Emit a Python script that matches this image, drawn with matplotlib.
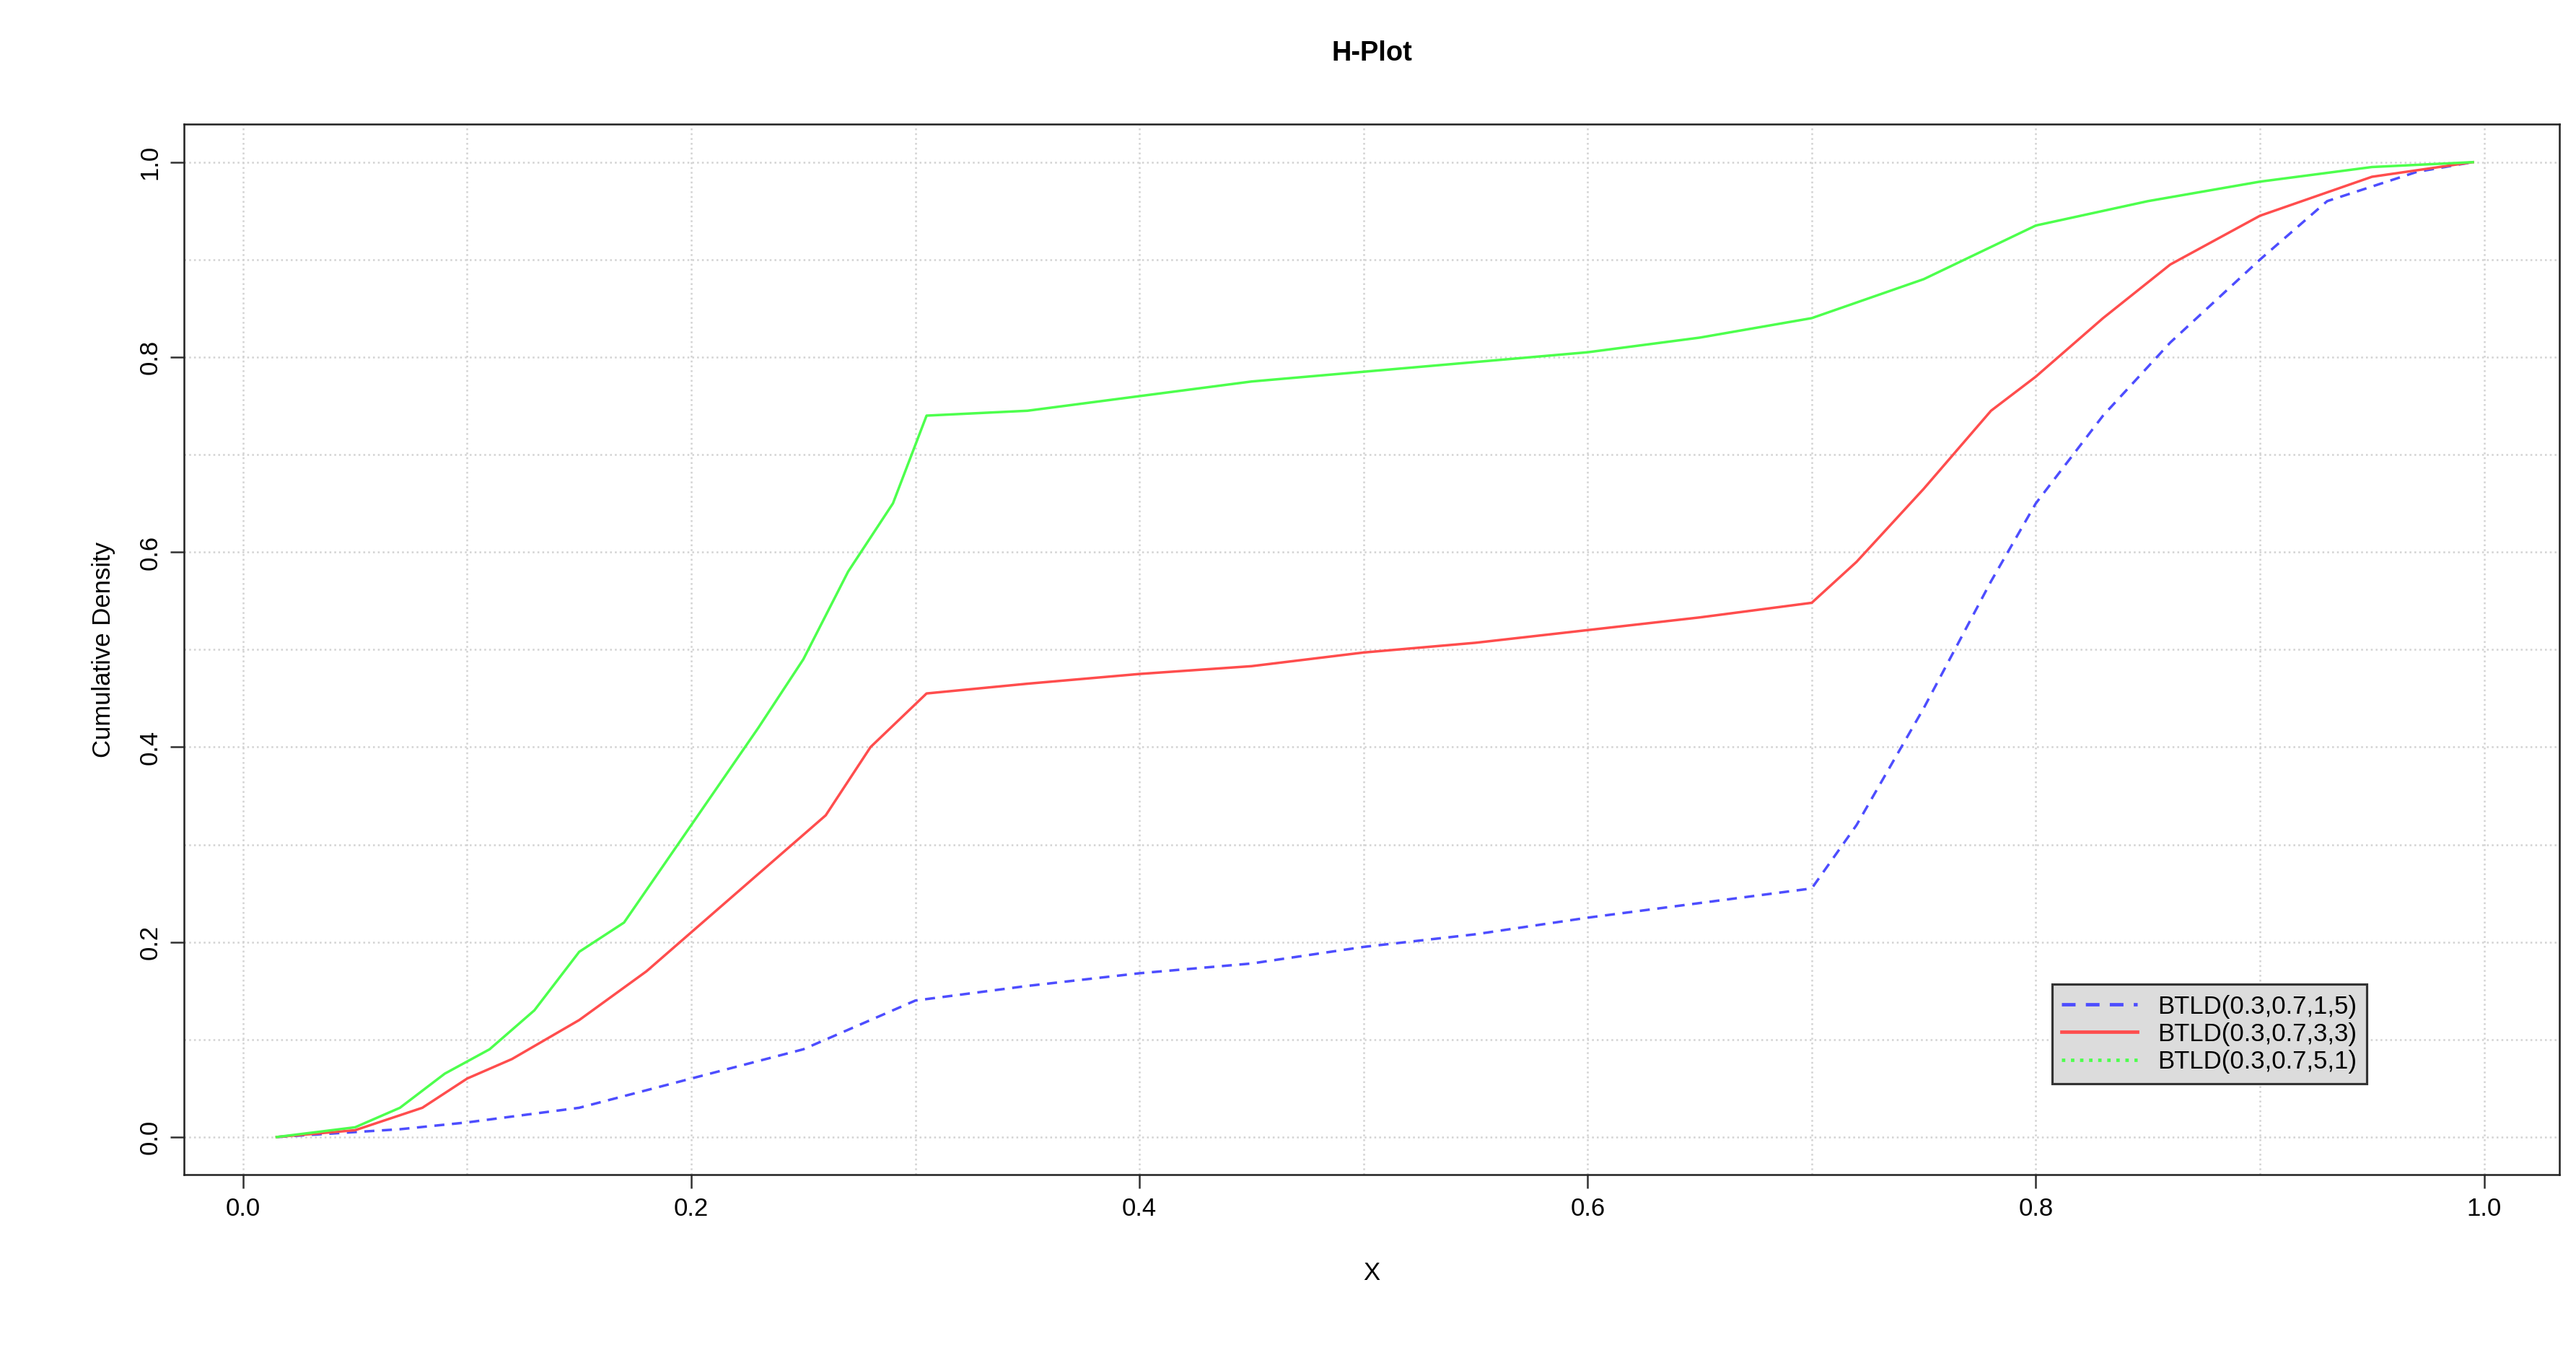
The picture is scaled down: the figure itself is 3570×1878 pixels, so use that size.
import matplotlib
matplotlib.use("Agg")
import matplotlib.pyplot as plt
from matplotlib.lines import Line2D

plt.rcParams['font.family'] = ['Liberation Sans', 'DejaVu Sans']

green_x = [0.015,0.05,0.07,0.09,0.11,0.13,0.15,0.17,0.2,0.23,0.25,0.27,0.29,0.305,0.35,0.4,0.45,0.5,0.55,0.6,0.65,0.7,0.75,0.8,0.85,0.9,0.95,0.995]
green_y = [0,0.01,0.03,0.065,0.09,0.13,0.19,0.22,0.32,0.42,0.49,0.58,0.65,0.74,0.745,0.76,0.775,0.785,0.795,0.805,0.82,0.84,0.88,0.935,0.96,0.98,0.995,1]
red_x = [0.015,0.05,0.08,0.1,0.12,0.15,0.18,0.2,0.23,0.26,0.28,0.305,0.35,0.4,0.45,0.5,0.55,0.6,0.65,0.7,0.72,0.75,0.78,0.8,0.83,0.86,0.9,0.95,0.995]
red_y = [0,0.007,0.03,0.06,0.08,0.12,0.17,0.21,0.27,0.33,0.4,0.455,0.465,0.475,0.483,0.497,0.507,0.52,0.533,0.548,0.59,0.665,0.745,0.78,0.84,0.895,0.945,0.985,1]
blue_x = [0.015,0.07,0.1,0.15,0.2,0.25,0.28,0.3,0.35,0.4,0.45,0.5,0.55,0.6,0.65,0.7,0.72,0.75,0.78,0.8,0.83,0.86,0.9,0.93,0.97,0.995]
blue_y = [0,0.008,0.015,0.03,0.06,0.09,0.12,0.14,0.155,0.168,0.178,0.195,0.208,0.225,0.24,0.255,0.32,0.44,0.57,0.65,0.74,0.815,0.9,0.96,0.99,1]
labels = ['BTLD(0.3,0.7,1,5)', 'BTLD(0.3,0.7,3,3)', 'BTLD(0.3,0.7,5,1)']
ticks = [0.0, 0.2, 0.4, 0.6, 0.8, 1.0]

cb, cr, cg = '#4d4dff', '#ff4d4d', '#4dff4d'

fig = plt.figure(figsize=(15.68, 8.25), dpi=227.68)
ax = fig.add_axes([0.0714, 0.133, 0.9222, 0.775])
ax.set_xlim(-0.0264, 1.0337)
ax.set_ylim(-0.0387, 1.0387)
for v in [i/10 for i in range(11)]:
    ax.axvline(v, color='#d3d3d3', lw=0.8, ls=':', zorder=0)
    ax.axhline(v, color='#d3d3d3', lw=0.8, ls=':', zorder=0)
ax.plot(blue_x, blue_y, color=cb, lw=1.1, ls=(0, (4, 3)))
ax.plot(red_x, red_y, color=cr, lw=1.1)
ax.plot(green_x, green_y, color=cg, lw=1.1)
ax.set_xticks(ticks)
ax.set_yticks(ticks)
ax.set_xticklabels([f'{t:.1f}' for t in ticks], fontsize=11)
ax.set_yticklabels([f'{t:.1f}' for t in ticks], fontsize=11, rotation=90, va='center')
ax.tick_params(length=6, color='#333333')
ax.set_xlabel('X', fontsize=11, labelpad=18)
ax.set_ylabel('Cumulative Density', fontsize=11, labelpad=10)
ax.set_title('H-Plot', fontsize=12, fontweight='bold', pad=28)
for s in ax.spines.values():
    s.set_color('#222222')
handles = [Line2D([], [], color=cb, ls=(0, (4, 3))), Line2D([], [], color=cr, lw=1.5),
           Line2D([], [], color=cg, ls=':')]
leg = ax.legend(handles, labels, loc='lower left', bbox_to_anchor=(0.781, 0.075), fontsize=11,
                fancybox=False, framealpha=1, facecolor='#dcdcdc', edgecolor='#333333',
                handlelength=3, labelspacing=0.15, borderpad=0.4)
fig.savefig('out.png')
